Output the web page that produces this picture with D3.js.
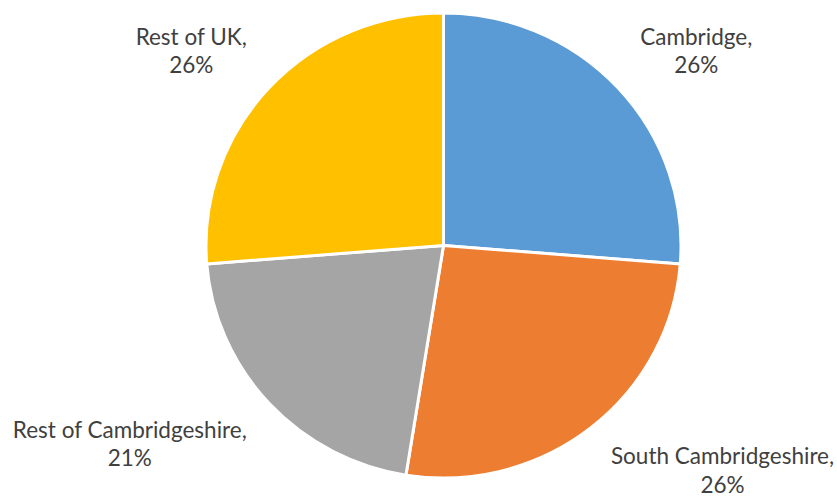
<!DOCTYPE html>
<html>
<head>
<meta charset="utf-8">
<script src="https://cdn.jsdelivr.net/npm/d3@7/dist/d3.min.js"></script>
<style>
  html, body { margin: 0; padding: 0; background: #fff; }
  svg { display: block; }
  .lbl { font-family: Lato, "Open Sans", sans-serif; font-size: 22.5px; fill: #404040; }
</style>
</head>
<body>
<svg id="chart" width="837" height="498"></svg>
<script>
// Share of respondents by home area
const categories = ["Cambridge", "South Cambridgeshire", "Rest of Cambridgeshire", "Rest of UK"];
const shares = [26, 26, 21, 26];
const colors = ["#5B9BD5", "#ED7D31", "#A5A5A5", "#FFC000"];

const width = 837, height = 498;
const cx = 443.5, cy = 245.5;
const radius = 237.5;
const squash = 232.5 / 237.5;   // slight vertical compression of the plot area
const labelGap = 14;
const padX = 12, padYBelow = 3;
const lineHeight = 28.5;

const svg = d3.select("#chart");

const pie = d3.pie().sort(null).value(d => d.value);
const arc = d3.arc().innerRadius(0).outerRadius(radius);

const data = categories.map((c, i) => ({ name: c, value: shares[i], color: colors[i] }));
const arcs = pie(data);

const plot = svg.append("g")
  .attr("transform", `translate(${cx},${cy}) scale(1,${squash})`);

plot.selectAll("path.slice")
  .data(arcs)
  .join("path")
  .attr("class", "slice")
  .attr("d", arc)
  .attr("fill", d => d.data.color)
  .attr("stroke", "#fff")
  .attr("stroke-width", 3)
  .attr("stroke-linejoin", "round");

// Outside-end labels: the text block's nearest corner sits just outside the slice mid-angle
const labels = svg.append("g");
arcs.forEach(d => {
  const mid = (d.startAngle + d.endAngle) / 2;
  const sx = Math.sin(mid), sy = -Math.cos(mid);
  const px = cx + (radius + labelGap) * sx + (sx >= 0 ? padX : -padX);
  const py = cy + (radius + labelGap) * sy * squash + (sy < 0 ? 0 : padYBelow);

  const g = labels.append("g");
  const t = g.append("text").attr("class", "lbl").attr("text-anchor", "middle");
  t.append("tspan").attr("x", 0).attr("y", 0).text(d.data.name + ",");
  t.append("tspan").attr("x", 0).attr("y", lineHeight).text(d.data.value + "%");

  const bb = t.node().getBBox();
  const bx = sx >= 0 ? px - bb.x : px - (bb.x + bb.width);
  const by = sy < 0 ? py - (bb.y + bb.height) : py - bb.y;
  g.attr("transform", `translate(${bx},${by})`);
});
</script>
</body>
</html>
